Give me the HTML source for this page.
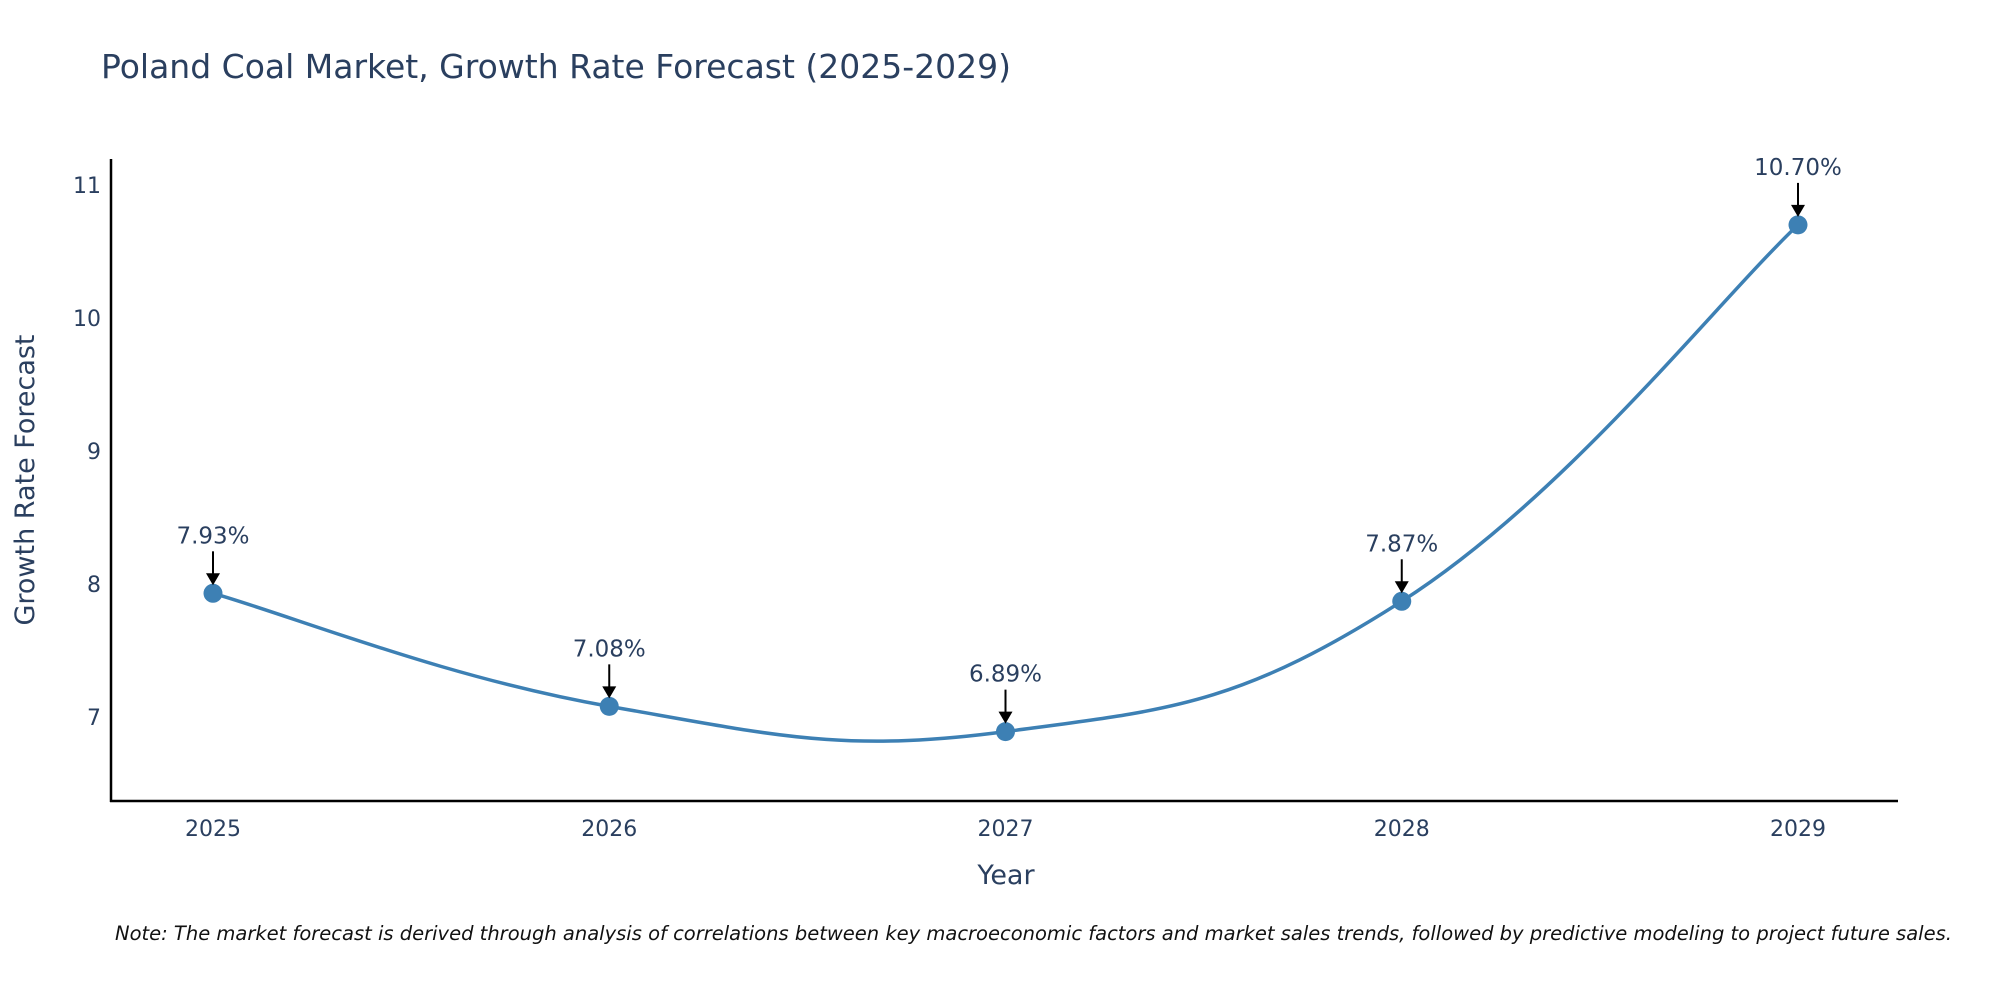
<!DOCTYPE html>
<html><head><meta charset="utf-8"><style>
body{margin:0;background:#fff;}
svg{display:block;font-family:"DejaVu Sans","Liberation Sans",sans-serif;}
</style></head><body>
<svg id="chart" width="2000" height="1000">
<text x="101" y="78" font-size="33" fill="#2a3f5f">Poland Coal Market, Growth Rate Forecast (2025-2029)</text>
<g id="axes"></g>
<g id="plot"></g>
<text x="1006" y="884" font-size="27" fill="#2a3f5f" text-anchor="middle">Year</text>
<text transform="translate(34,480) rotate(-90)" font-size="27" fill="#2a3f5f" text-anchor="middle">Growth Rate Forecast</text>
<text x="115" y="940" font-size="19.5" font-style="italic" fill="#111">Note: The market forecast is derived through analysis of correlations between key macroeconomic factors and market sales trends, followed by predictive modeling to project future sales.</text>
</svg>
<script>
const years=[2025,2026,2027,2028,2029];
const values=[7.93,7.08,6.89,7.87,10.70];
const labels=["7.93%","7.08%","6.89%","7.87%","10.70%"];
const yTicks=[7,8,9,10,11];
const NS="http://www.w3.org/2000/svg";
const X=v=>213+(v-2025)*(1798-213)/4;
const Y=v=>717-(v-7)*133;
function mk(t,a,p){const e=document.createElementNS(NS,t);for(const k in a)e.setAttribute(k,a[k]);p.appendChild(e);return e;}
const ax=document.getElementById('axes'),pl=document.getElementById('plot');
let l=mk('line',{x1:111,y1:159,x2:111,y2:802,stroke:'#000','stroke-width':2.5},ax);


l=mk('line',{x1:110,y1:801,x2:1898,y2:801,stroke:'#000','stroke-width':2.5},ax);


yTicks.forEach(t=>{const e=mk('text',{x:101,y:Y(t)+8,'font-size':22,fill:'#2a3f5f','text-anchor':'end'},ax);e.textContent=t;

});
years.forEach(t=>{const e=mk('text',{x:X(t),y:836,'font-size':22,fill:'#2a3f5f','text-anchor':'middle'},ax);e.textContent=t;

});
const pts=years.map((y,i)=>[X(y),Y(values[i])]);
let d='M'+pts[0][0]+','+pts[0][1];
const s=0.62;
for(let i=0;i<pts.length-1;i++){const p0=pts[Math.max(i-1,0)],p1=pts[i],p2=pts[i+1],p3=pts[Math.min(i+2,pts.length-1)];
const c1=[p1[0]+(p2[0]-p0[0])*s/3,p1[1]+(p2[1]-p0[1])*s/3],c2=[p2[0]-(p3[0]-p1[0])*s/3,p2[1]-(p3[1]-p1[1])*s/3];
d+=` C${c1[0]},${c1[1]} ${c2[0]},${c2[1]} ${p2[0]},${p2[1]}`;}
const path=mk('path',{d:d,fill:'none',stroke:'#3d80b4','stroke-width':3.5},pl);


pts.forEach((p,i)=>{const c=mk('circle',{cx:p[0],cy:p[1],r:9.5,fill:'#3d80b4'},pl);


const a=mk('line',{x1:p[0],y1:p[1]-42,x2:p[0],y2:p[1]-18,stroke:'#000','stroke-width':2},pl);


const h=mk('polygon',{points:`${p[0]-7},${p[1]-20} ${p[0]+7},${p[1]-20} ${p[0]},${p[1]-8}`,fill:'#000'},pl);


const t=mk('text',{x:p[0],y:p[1]-50,'font-size':23,fill:'#2a3f5f','text-anchor':'middle'},pl);t.textContent=labels[i];

});
</script>
</body></html>
